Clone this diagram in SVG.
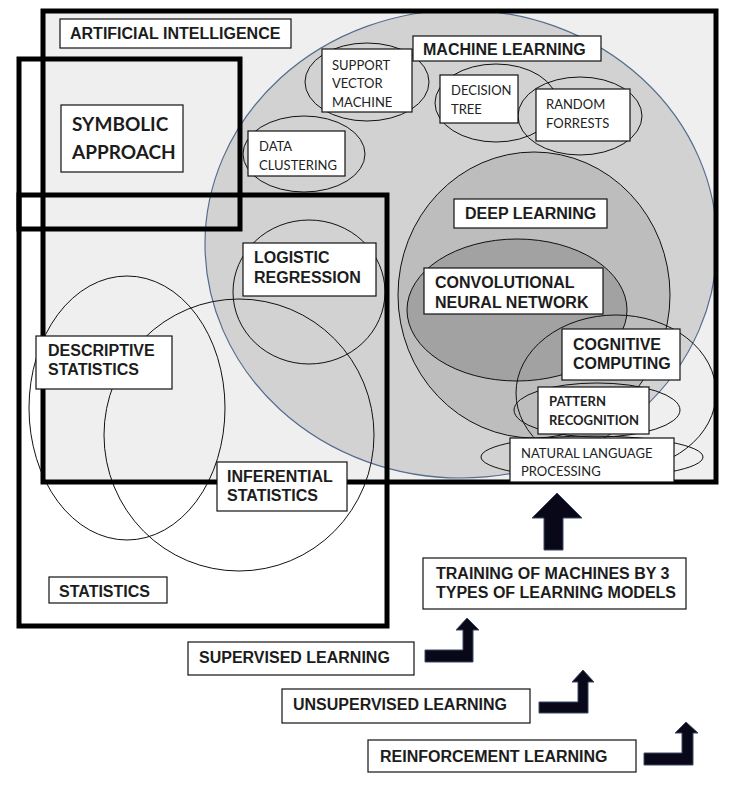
<svg xmlns="http://www.w3.org/2000/svg" width="747" height="793" viewBox="0 0 747 793">
<style>
.thick{fill:none;stroke:#000;stroke-width:5}
.ell{fill:none;stroke:#111;stroke-width:1}
.box{fill:#fff;stroke:#111;stroke-width:1.2}
.b{font-family:"Liberation Sans",Arial,sans-serif;font-weight:bold;font-size:16px;fill:#1c1c1c}
.c{font-family:Lato,"Noto Sans",sans-serif;font-size:13px;fill:#222}
.cs{font-family:Lato,"Noto Sans",sans-serif;font-weight:bold;font-size:13px;fill:#222}
.cb{font-family:Lato,"Noto Sans",sans-serif;font-weight:bold;font-size:19px;fill:#1c1c1c}
.arr{fill:#080818;stroke:#3a4a66;stroke-width:1}
</style>
<rect width="747" height="793" fill="#fff"/>
<g id="regions">
<rect x="43" y="11" width="673" height="471" fill="#efefef"/>
<ellipse cx="461" cy="244" rx="256" ry="234" fill="#d2d2d2" stroke="#566d8f" stroke-width="1.2"/>
<ellipse cx="534" cy="295" rx="136" ry="143" fill="#bdbdbd" stroke="#111" stroke-width="1"/>
<ellipse cx="517" cy="310" rx="110" ry="71" fill="#a2a2a2" stroke="#111" stroke-width="1"/>
<ellipse class="ell" cx="616" cy="393" rx="100" ry="78"/>
<ellipse class="ell" cx="597" cy="410" rx="83" ry="27"/>
<ellipse class="ell" cx="592" cy="457" rx="111" ry="21"/>
<ellipse class="ell" cx="367" cy="82" rx="62" ry="39"/>
<ellipse class="ell" cx="304" cy="154" rx="61" ry="38"/>
<ellipse class="ell" cx="496" cy="103" rx="61" ry="39"/>
<ellipse class="ell" cx="580" cy="116" rx="62" ry="39"/>
<ellipse class="ell" cx="309" cy="292" rx="76" ry="72"/>
<ellipse class="ell" cx="127" cy="408" rx="98" ry="132"/>
<ellipse class="ell" cx="239" cy="435" rx="135" ry="136"/>
<rect class="thick" x="43" y="11" width="673" height="471"/>
<rect class="thick" x="19" y="59" width="221" height="170"/>
<rect class="thick" x="19" y="195" width="368" height="431"/>
</g>
<g id="artificial-intelligence"><rect class="box" x="60" y="19" width="231" height="29"/><text class="b" x="70" y="39">ARTIFICIAL INTELLIGENCE</text></g>
<g id="symbolic-approach"><rect class="box" x="61" y="105" width="122" height="67"/><text class="cb" x="72" y="131">SYMBOLIC</text><text class="cb" x="72" y="159">APPROACH</text></g>
<g id="support-vector-machine"><rect class="box" x="322" y="49" width="90" height="63"/><text class="c" x="332" y="70">SUPPORT</text><text class="c" x="332" y="88">VECTOR</text><text class="c" x="332" y="107">MACHINE</text></g>
<g id="machine-learning"><rect class="box" x="413" y="36" width="188" height="25"/><text class="b" x="423" y="55">MACHINE LEARNING</text></g>
<g id="decision-tree"><rect class="box" x="440" y="75" width="78" height="48"/><text class="c" x="451" y="95">DECISION</text><text class="c" x="451" y="114">TREE</text></g>
<g id="random-forrests"><rect class="box" x="536" y="89" width="94" height="52"/><text class="c" x="546" y="109">RANDOM</text><text class="c" x="546" y="128">FORRESTS</text></g>
<g id="data-clustering"><rect class="box" x="248" y="131" width="97" height="45"/><text class="c" x="259" y="151">DATA</text><text class="c" x="259" y="170">CLUSTERING</text></g>
<g id="deep-learning"><rect class="box" x="454" y="199" width="153" height="29"/><text class="b" x="465" y="219">DEEP LEARNING</text></g>
<g id="logistic-regression"><rect class="box" x="243" y="243" width="133" height="53"/><text class="b" x="254" y="263">LOGISTIC</text><text class="b" x="254" y="283">REGRESSION</text></g>
<g id="convolutional-neural-network"><rect class="box" x="424" y="268" width="179" height="46"/><text class="b" x="435" y="288">CONVOLUTIONAL</text><text class="b" x="435" y="308">NEURAL NETWORK</text></g>
<g id="cognitive-computing"><rect class="box" x="562" y="329" width="118" height="51"/><text class="b" x="573" y="350">COGNITIVE</text><text class="b" x="573" y="369">COMPUTING</text></g>
<g id="pattern-recognition"><rect class="box" x="538" y="387" width="111" height="47"/><text class="cs" x="549" y="406">PATTERN</text><text class="cs" x="549" y="425">RECOGNITION</text></g>
<g id="natural-language-processing"><rect class="box" x="510" y="438" width="164" height="44"/><text class="c" x="521" y="458">NATURAL LANGUAGE</text><text class="c" x="521" y="476">PROCESSING</text></g>
<g id="descriptive-statistics"><rect class="box" x="36" y="336" width="136" height="53"/><text class="b" x="48" y="356">DESCRIPTIVE</text><text class="b" x="48" y="375">STATISTICS</text></g>
<g id="inferential-statistics"><rect class="box" x="217" y="462" width="130" height="49"/><text class="b" x="227" y="482">INFERENTIAL</text><text class="b" x="227" y="501">STATISTICS</text></g>
<g id="statistics"><rect class="box" x="49" y="577" width="118" height="26"/><text class="b" x="59" y="597">STATISTICS</text></g>
<g id="training"><rect class="box" x="423" y="558" width="263" height="51"/><text class="b" x="436" y="579">TRAINING OF MACHINES BY 3</text><text class="b" x="436" y="598">TYPES OF LEARNING MODELS</text></g>
<g id="supervised-learning"><rect class="box" x="188" y="642" width="226" height="33"/><text class="b" x="199" y="663">SUPERVISED LEARNING</text></g>
<g id="unsupervised-learning"><rect class="box" x="282" y="689" width="248" height="34"/><text class="b" x="293" y="710">UNSUPERVISED LEARNING</text></g>
<g id="reinforcement-learning"><rect class="box" x="368" y="740" width="268" height="32"/><text class="b" x="380" y="762">REINFORCEMENT LEARNING</text></g>
<g id="connectors">
<path class="arr" d="M544,550 L544,518 L532,518 L557,493 L582,518 L563,518 L563,550 Z"/>
<path class="arr" d="M425,650 L463,650 L463,630 L456,630 L467,618 L479,630 L473,630 L473,662 L425,662 Z"/>
<path class="arr" d="M539,702 L578,702 L578,682 L572,682 L583,670 L594,682 L588,682 L588,713 L539,713 Z"/>
<path class="arr" d="M644,753 L682,753 L682,733 L675,733 L686,722 L698,733 L693,733 L693,765 L644,765 Z"/>
</g>
</svg>
